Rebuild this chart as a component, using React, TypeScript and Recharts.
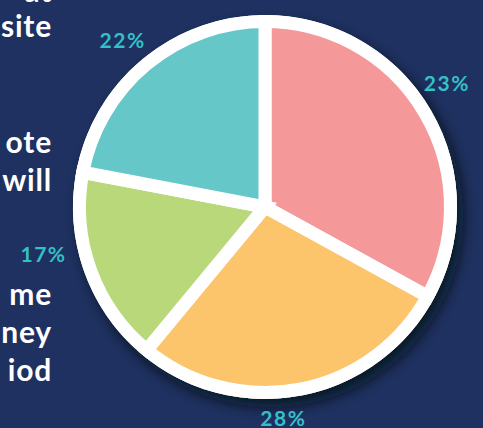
import { PieChart, Pie, Cell } from "recharts";

const SEGMENTS = ["pink", "yellow", "green", "teal"];
const VALUES = [33, 28, 17, 22];
const LABELS = ["23%", "28%", "17%", "22%"];
const COLORS = ["#f4989a", "#fcc46b", "#b8d87a", "#66c7c8"];

// cut-off text from the left column of the infographic
const SIDE_TEXT = ["at", "site", "ote", "will", "me", "ney", "iod"];
const SIDE_BASELINES = [2, 37, 153, 191, 305, 343, 381];

const data = SEGMENTS.map((name, i) => ({ name, value: VALUES[i], label: LABELS[i] }));

const RAD = Math.PI / 180;
// label placement tweaks (degrees clockwise, radius) so labels sit where the original put them
const LABEL_POS = [
  { shift: -4, r: 220 },
  { shift: 6, r: 211 },
  { shift: 8, r: 227 },
  { shift: -1, r: 220 },
];

const renderLabel = (props: any) => {
  const { cx, cy, midAngle, index } = props;
  const p = LABEL_POS[index];
  const a = midAngle - p.shift;
  const x = cx + p.r * Math.cos(-a * RAD);
  const y = cy + p.r * Math.sin(-a * RAD);
  return (
    <text
      x={x + 0.75}
      y={y}
      fill="#35bfc6"
      fontSize={21}
      fontWeight={700}
      fontFamily="Lato, sans-serif"
      letterSpacing={1.5}
      textAnchor="middle"
      dominantBaseline="central"
    >
      {LABELS[index]}
    </text>
  );
};

export default function App() {
  return (
    <div style={{ width: 483, height: 428, background: "#1e3160", position: "relative", overflow: "hidden" }}>
      <style>{`body{margin:0}`}</style>
      <svg width={0} height={0} style={{ position: "absolute" }}>
        <defs>
          <filter id="pieShadow" x="-20%" y="-20%" width="140%" height="140%">
            <feDropShadow dx={6} dy={8} stdDeviation={7} floodColor="#050a18" floodOpacity={0.75} />
          </filter>
        </defs>
      </svg>
      <svg width={483} height={428} style={{ position: "absolute", left: 0, top: 0 }}>
        {SIDE_TEXT.map((t, i) => (
          <text
            key={t}
            x={52}
            y={SIDE_BASELINES[i]}
            fill="#ffffff"
            fontSize={30}
            fontWeight={700}
            fontFamily="Lato, sans-serif"
            letterSpacing={0.8}
            textAnchor="end"
          >
            {t}
          </text>
        ))}
      </svg>
      <div style={{ position: "absolute", left: 0, top: 0 }}>
        <PieChart width={483} height={428}>
          <Pie
            data={[{ name: "rim", value: 1 }]}
            dataKey="value"
            cx={260}
            cy={202}
            outerRadius={192}
            startAngle={90}
            endAngle={-270}
            stroke="none"
            isAnimationActive={false}
          >
            <Cell fill="#ffffff" filter="url(#pieShadow)" />
          </Pie>
          <Pie
            data={data}
            dataKey="value"
            cx={260}
            cy={202}
            outerRadius={185.5}
            startAngle={90}
            endAngle={-270}
            stroke="#ffffff"
            strokeWidth={13}
            label={renderLabel}
            labelLine={false}
            isAnimationActive={false}
          >
            {data.map((d, i) => (
              <Cell key={d.name} fill={COLORS[i]} />
            ))}
          </Pie>
        </PieChart>
      </div>
    </div>
  );
}
